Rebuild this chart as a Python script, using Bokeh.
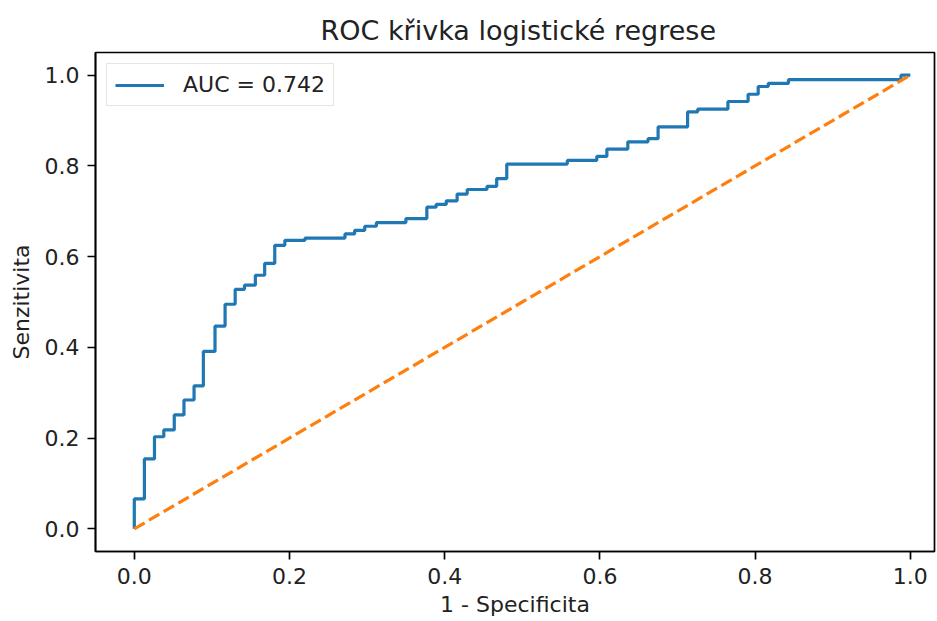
from bokeh.plotting import figure
from bokeh.models import Range1d, FixedTicker, PrintfTickFormatter
from bokeh.embed import file_html
from bokeh.resources import INLINE

# ROC curve corners (step "after": horizontal at previous TPR, then vertical up)
fpr = [0.0, 0.0, 0.013, 0.026, 0.038, 0.0515, 0.064, 0.077, 0.089, 0.104, 0.117,
       0.130, 0.142, 0.156, 0.168, 0.181, 0.194, 0.220, 0.2715, 0.284, 0.297,
       0.312, 0.350, 0.377, 0.389, 0.402, 0.416, 0.429, 0.4545, 0.467, 0.480,
       0.558, 0.596, 0.609, 0.636, 0.662, 0.675, 0.713, 0.726, 0.765, 0.791,
       0.804, 0.817, 0.843, 0.988, 1.0]
tpr = [0.0, 0.066, 0.154, 0.203, 0.218, 0.251, 0.284, 0.315, 0.391, 0.447, 0.495,
       0.528, 0.537, 0.559, 0.585, 0.625, 0.636, 0.641, 0.650, 0.658, 0.667,
       0.675, 0.684, 0.709, 0.715, 0.723, 0.738, 0.748, 0.755, 0.772, 0.804,
       0.812, 0.821, 0.837, 0.853, 0.860, 0.886, 0.919, 0.925, 0.942, 0.958,
       0.975, 0.982, 0.990, 1.0, 1.0]
diag_x = [0.0, 1.0]
diag_y = [0.0, 1.0]
auc_label = "AUC = 0.742"
title_text = "ROC křivka logistické regrese"
x_label = "1 - Specificita"
y_label = "Senzitivita"
ticks = [0.0, 0.2, 0.4, 0.6, 0.8, 1.0]

FONT = "DejaVu Sans"
TXT = "#222222"

p = figure(width=936, height=620, output_backend="svg", toolbar_location=None,
           x_range=Range1d(-0.05, 1.0312), y_range=Range1d(-0.05, 1.05),
           min_border_left=95, min_border_right=2, min_border_top=52,
           min_border_bottom=69)

p.title.text = title_text
p.title.text_font = FONT
p.title.text_font_size = "27px"
p.title.text_font_style = "normal"
p.title.text_color = TXT
p.title.align = "left"
p.title.offset = 225
p.title.standoff = 13

p.step(fpr, tpr, mode="after", line_color="#1f77b4", line_width=3.2,
       legend_label=auc_label)
p.line(diag_x, diag_y, line_color="#ff7f0e", line_width=3.2, line_dash="12 5")

p.grid.visible = False
p.outline_line_color = "black"
p.outline_line_width = 1.7
p.outline_line_alpha = 1.0

for ax in (p.xaxis[0], p.yaxis[0]):
    ax.ticker = FixedTicker(ticks=ticks)
    ax.formatter = PrintfTickFormatter(format="%.1f")
    ax.minor_tick_line_color = None
    ax.major_tick_in = 0
    ax.major_tick_out = 8
    ax.major_tick_line_width = 1.7
    ax.major_tick_line_color = "black"
    ax.axis_line_color = "black"
    ax.axis_line_width = 1.7
    ax.major_label_text_font = FONT
    ax.major_label_text_font_size = "22px"
    ax.major_label_text_color = TXT
    ax.axis_label_text_font = FONT
    ax.axis_label_text_font_size = "22px"
    ax.axis_label_text_font_style = "normal"
    ax.axis_label_text_color = TXT

p.xaxis.axis_label = x_label
p.yaxis.axis_label = y_label
p.xaxis.major_label_standoff = 8
p.xaxis.axis_label_standoff = 5
p.yaxis.major_label_standoff = 8
p.yaxis.axis_label_standoff = 8

lg = p.legend[0]
lg.location = "top_left"
lg.margin = 11
lg.padding = 8
lg.spacing = 0
lg.glyph_width = 49
lg.label_standoff = 19
lg.label_height = 25
lg.label_text_font = FONT
lg.label_text_font_size = "22px"
lg.label_text_color = TXT
lg.border_line_color = "#cccccc"
lg.border_line_width = 1.8
lg.background_fill_alpha = 0.8

open("out.html", "w").write(file_html(p, INLINE))
